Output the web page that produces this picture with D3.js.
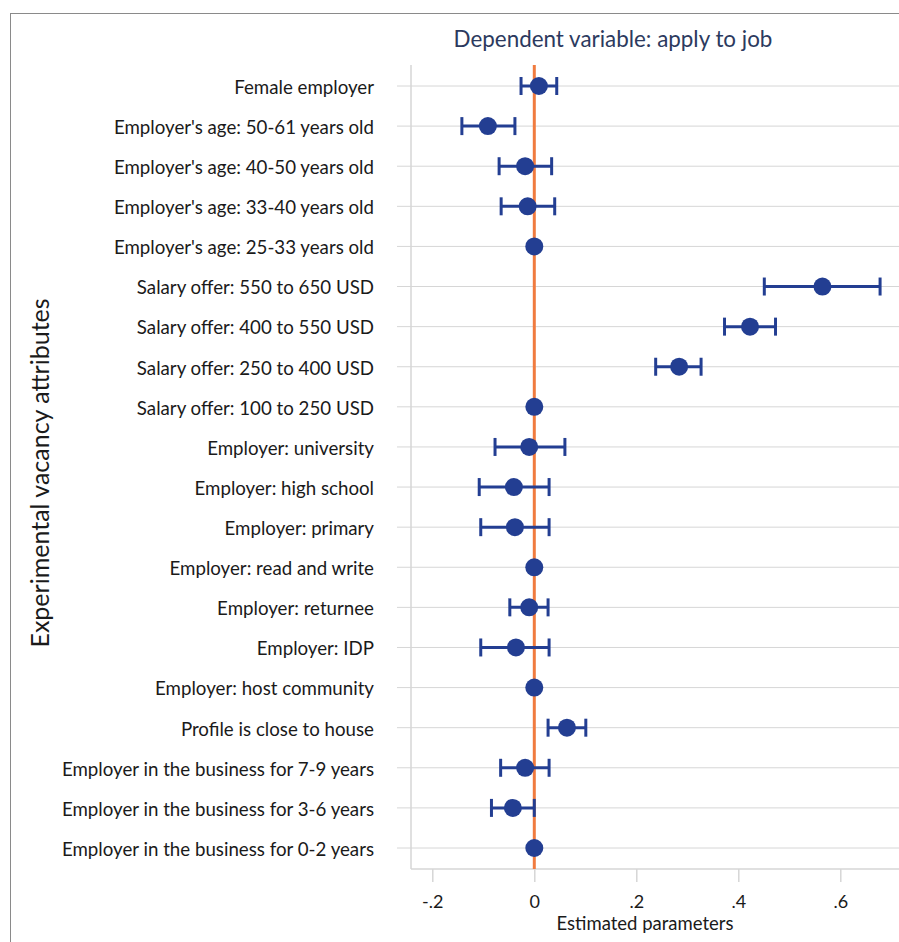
<!DOCTYPE html>
<html>
<head>
<meta charset="utf-8">
<script src="https://cdn.jsdelivr.net/npm/d3@7"></script>
<style>
html,body{margin:0;padding:0;background:#fff;}
svg{display:block;}
text{font-family:Lato,"Open Sans",sans-serif;}
</style>
</head>
<body>
<svg id="chart" width="899" height="942"></svg>
<script>
const categories = [
  "Female employer",
  "Employer's age: 50-61 years old",
  "Employer's age: 40-50 years old",
  "Employer's age: 33-40 years old",
  "Employer's age: 25-33 years old",
  "Salary offer: 550 to 650 USD",
  "Salary offer: 400 to 550 USD",
  "Salary offer: 250 to 400 USD",
  "Salary offer: 100 to 250 USD",
  "Employer: university",
  "Employer: high school",
  "Employer: primary",
  "Employer: read and write",
  "Employer: returnee",
  "Employer: IDP",
  "Employer: host community",
  "Profile is close to house",
  "Employer in the business for 7-9 years",
  "Employer in the business for 3-6 years",
  "Employer in the business for 0-2 years"
];
const estimates = [0.009, -0.091, -0.018, -0.013, 0, 0.565, 0.423, 0.284, 0, -0.010, -0.040, -0.038, 0, -0.010, -0.036, 0, 0.064, -0.018, -0.042, 0];
const ciLow =  [-0.026, -0.142, -0.069, -0.065, null, 0.451, 0.373, 0.238, null, -0.077, -0.108, -0.105, null, -0.048, -0.105, null, 0.027, -0.066, -0.084, null];
const ciHigh = [0.044, -0.038, 0.034, 0.040, null, 0.678, 0.473, 0.327, null, 0.060, 0.029, 0.029, null, 0.027, 0.029, null, 0.101, 0.029, 0.000, null];
const xTicks = [-0.2, 0, 0.2, 0.4, 0.6];
const xTickLabels = ["-.2", "0", ".2", ".4", ".6"];
const titleText = "Dependent variable: apply to job";
const xTitle = "Estimated parameters";
const yTitle = "Experimental vacancy attributes";

const svg = d3.select("#chart");
const plotL = 411, plotR = 899, plotT = 65, plotB = 869;
const navy = "#233e92", orange = "#f07b3f", grid = "#d6d6d6";

// outer frame
svg.append("line").attr("x1",10).attr("x2",899).attr("y1",13.5).attr("y2",13.5).attr("stroke","#8a8a8a").attr("stroke-width",1);
svg.append("line").attr("x1",10.5).attr("x2",10.5).attr("y1",13).attr("y2",942).attr("stroke","#8a8a8a").attr("stroke-width",1);

const x = d3.scaleLinear().domain([-0.2, 0.6]).range([432.3, 840.3]);
const y = d3.scalePoint().domain(categories).range([86, 848]);

// title
svg.append("text").attr("x",613).attr("y",47).attr("text-anchor","middle")
  .attr("font-size",22.4).attr("fill","#2c3a5e").text(titleText);

// gridlines + y ticks
const g = svg.append("g");
categories.forEach(c => {
  g.append("line").attr("x1",397).attr("x2",plotR).attr("y1",y(c)).attr("y2",y(c))
    .attr("stroke",grid).attr("stroke-width",1);
});

// y labels
categories.forEach(c => {
  svg.append("text").attr("x",374).attr("y",y(c)).attr("dy","0.42em")
    .attr("text-anchor","end").attr("font-size",18.7).attr("fill","#1a1a1a").text(c);
});

// y axis line
svg.append("line").attr("x1",plotL).attr("x2",plotL).attr("y1",plotT).attr("y2",plotB)
  .attr("stroke",grid).attr("stroke-width",1.5);

// x axis
const xAxis = d3.axisBottom(x).tickValues(xTicks).tickFormat((d,i)=>xTickLabels[i]).tickSize(13).tickSizeOuter(0);
const ax = svg.append("g").attr("transform",`translate(0,${plotB})`).call(xAxis);
ax.select(".domain").remove();
ax.selectAll(".tick line").attr("stroke",grid).attr("stroke-width",1.5);
ax.selectAll(".tick text").attr("font-size",18).attr("fill","#1a1a1a").attr("y",26).attr("dy","0.71em")
  .style("font-family","Lato, sans-serif");
svg.append("line").attr("x1",plotL).attr("x2",plotR).attr("y1",plotB).attr("y2",plotB)
  .attr("stroke",grid).attr("stroke-width",1.5);

svg.append("text").attr("x",645).attr("y",930).attr("text-anchor","middle")
  .attr("font-size",18.5).attr("fill","#1a1a1a").text(xTitle);

svg.append("text").attr("transform","translate(49,473) rotate(-90)").attr("text-anchor","middle")
  .attr("font-size",25).attr("fill","#1a1a1a").text(yTitle);

// zero line
svg.append("line").attr("x1",x(0)).attr("x2",x(0)).attr("y1",plotT).attr("y2",plotB)
  .attr("stroke",orange).attr("stroke-width",3);

// CIs and points
const marks = svg.append("g");
categories.forEach((c,i) => {
  const yy = y(c);
  if (ciLow[i] !== null) {
    marks.append("line").attr("x1",x(ciLow[i])).attr("x2",x(ciHigh[i])).attr("y1",yy).attr("y2",yy)
      .attr("stroke",navy).attr("stroke-width",3);
    [ciLow[i], ciHigh[i]].forEach(v => {
      marks.append("line").attr("x1",x(v)).attr("x2",x(v)).attr("y1",yy-9).attr("y2",yy+9)
        .attr("stroke",navy).attr("stroke-width",3);
    });
  }
  marks.append("circle").attr("cx",x(estimates[i])).attr("cy",yy).attr("r",9).attr("fill",navy);
});
</script>
</body>
</html>
